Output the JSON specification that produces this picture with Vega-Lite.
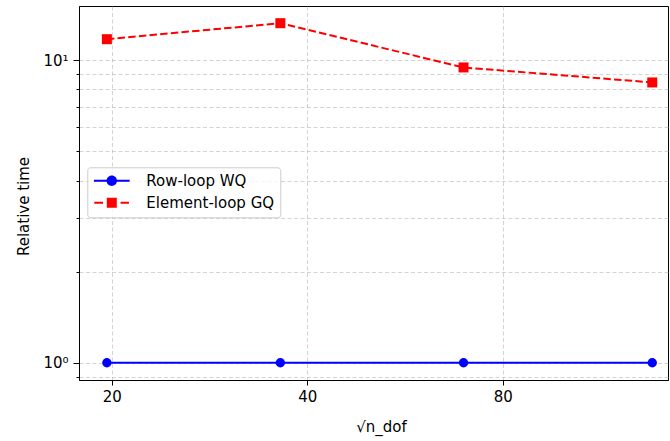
{
  "$schema": "https://vega.github.io/schema/vega-lite/v6.json",
  "width": 589,
  "height": 374,
  "autosize": {"type": "none"},
  "padding": {"left": 79, "top": 6, "right": 2, "bottom": 61},
  "background": "white",
  "config": {
    "font": "DejaVu Sans",
    "view": {"stroke": "black", "strokeWidth": 1},
    "axis": {
      "labelFont": "DejaVu Sans", "labelFontSize": 15, "labelColor": "black",
      "titleFont": "DejaVu Sans", "titleFontSize": 15, "titleFontWeight": "normal", "titleColor": "black",
      "tickColor": "black", "domainColor": "black", "tickWidth": 1,
      "gridColor": "#b0b0b0", "gridDash": [4, 2.5], "gridWidth": 0.8, "gridOpacity": 0.7,
      "labelFlush": false
    }
  },
  "data": {
    "values": [
      {"n": 19.65, "time": 1.0, "method": "Row-loop WQ"},
      {"n": 36.35, "time": 1.0, "method": "Row-loop WQ"},
      {"n": 69.6, "time": 1.0, "method": "Row-loop WQ"},
      {"n": 135.9, "time": 1.0, "method": "Row-loop WQ"},
      {"n": 19.65, "time": 11.73, "method": "Element-loop GQ"},
      {"n": 36.35, "time": 13.25, "method": "Element-loop GQ"},
      {"n": 69.6, "time": 9.46, "method": "Element-loop GQ"},
      {"n": 135.9, "time": 8.44, "method": "Element-loop GQ"}
    ]
  },
  "encoding": {
    "x": {
      "field": "n", "type": "quantitative",
      "scale": {"type": "log", "domain": [17.8, 143.7], "nice": false},
      "axis": {"values": [20, 40, 80], "format": "d", "title": "√n_dof", "tickSize": 5, "labelPadding": 4, "titlePadding": 15, "titleX": 302}
    },
    "y": {
      "field": "time", "type": "quantitative",
      "scale": {"type": "log", "domain": [0.877, 15.1], "nice": false},
      "axis": {
        "values": [0.9, 1, 2, 3, 4, 5, 6, 7, 8, 9, 10],
        "labelExpr": "datum.value == 1 ? '10⁰' : datum.value == 10 ? '10¹' : ''",
        "tickSize": {"condition": {"test": "datum.value == 1 || datum.value == 10", "value": 6}, "value": 3},
        "labelPadding": 5,
        "title": "Relative time",
        "titlePadding": 11,
        "titleY": 200
      }
    }
  },
  "layer": [
    {
      "transform": [{"filter": "datum.method === 'Row-loop WQ'"}],
      "mark": {"type": "line", "strokeWidth": 2, "color": "#0000ff"},
      "encoding": {}
    },
    {
      "transform": [{"filter": "datum.method === 'Element-loop GQ'"}],
      "mark": {"type": "line", "strokeWidth": 2, "color": "#ff0000", "strokeDash": [7.5, 3.2]},
      "encoding": {}
    },
    {
      "transform": [{"filter": "datum.method === 'Row-loop WQ'"}],
      "mark": {"type": "point", "shape": "circle", "filled": true, "opacity": 1, "size": 88, "color": "#0000ff"},
      "encoding": {}
    },
    {
      "transform": [{"filter": "datum.method === 'Element-loop GQ'"}],
      "mark": {"type": "point", "shape": "square", "filled": true, "opacity": 1, "size": 100, "color": "#ff0000"},
      "encoding": {}
    },
    {
      "mark": {"type": "point", "filled": true, "size": 196, "opacity": 0},
      "encoding": {
        "color": {
          "field": "method", "type": "nominal",
          "scale": {"domain": ["Row-loop WQ", "Element-loop GQ"], "range": ["#0000ff", "#ff0000"]},
          "legend": {
            "title": null, "orient": "none", "legendX": 8.3, "legendY": 161.3,
            "symbolSize": 196, "symbolStrokeWidth": 0, "symbolOpacity": 1,
            "labelFontSize": 15, "labelFont": "DejaVu Sans", "labelColor": "black",
            "fillColor": "rgba(255,255,255,0.8)", "strokeColor": "#cccccc", "cornerRadius": 3,
            "padding": 6, "symbolOffset": 11, "labelOffset": 27, "rowPadding": 6
          }
        },
        "shape": {
          "field": "method", "type": "nominal",
          "scale": {"domain": ["Row-loop WQ", "Element-loop GQ"], "range": [
            "M-2.55,-0.143H2.55V0.143H-2.55Z M-0.74,0A0.74,0.74,0,1,1,0.74,0A0.74,0.74,0,1,1,-0.74,0Z",
            "M-2.5,-0.143H-1.25V0.143H-2.5Z M1.25,-0.143H2.45V0.143H1.25Z M-0.714,-0.714H0.714V0.714H-0.714Z"
          ]},
          "legend": {
            "title": null, "orient": "none", "legendX": 8.3, "legendY": 161.3,
            "symbolSize": 196, "symbolStrokeWidth": 0, "symbolOpacity": 1,
            "labelFontSize": 15, "labelFont": "DejaVu Sans", "labelColor": "black",
            "fillColor": "rgba(255,255,255,0.8)", "strokeColor": "#cccccc", "cornerRadius": 3,
            "padding": 6, "symbolOffset": 11, "labelOffset": 27, "rowPadding": 6
          }
        }
      }
    }
  ]
}
